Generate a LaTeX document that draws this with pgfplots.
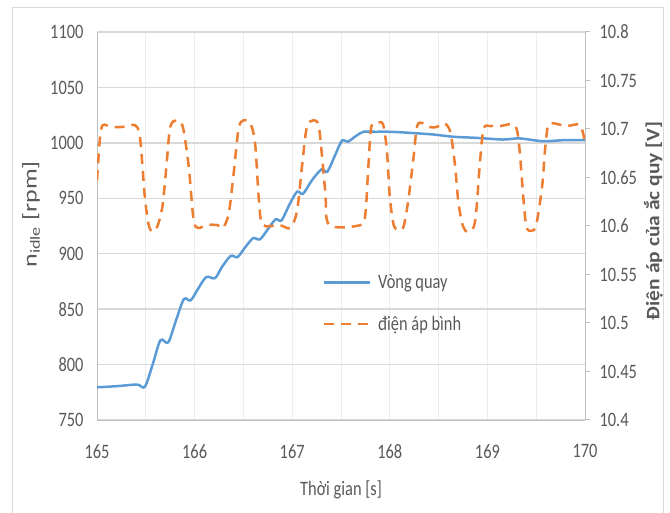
\documentclass[border=0pt]{standalone}
\usepackage{pgfplots}
\pgfplotsset{compat=1.18}
\usepackage{fontspec}
\setmainfont{Carlito}[FakeStretch=0.8]
\newfontfamily\leftlab{Carlito}[FakeStretch=1.3]
\newfontfamily\rightlab{Carlito}[FakeStretch=1.13]

\definecolor{cblue}{HTML}{5B9BD5}
\definecolor{corange}{HTML}{ED7D31}
\definecolor{tickgray}{HTML}{595959}
\definecolor{hgrid}{HTML}{D9D9D9}
\definecolor{vgrid}{HTML}{EDEDED}
\definecolor{axgray}{HTML}{BFBFBF}

\newcommand{\chartfont}{\fontsize{20.5bp}{24bp}\selectfont}

\begin{document}
\begin{tikzpicture}
\useasboundingbox (0,0) rectangle (670bp,513bp);
\draw[hgrid, line width=1bp] (12bp,-10bp) rectangle (663bp,505bp);

% left axis: engine speed
\begin{axis}[
    at={(97bp,93bp)}, anchor=south west,
    scale only axis, width=488bp, height=388bp,
    xmin=165, xmax=170, ymin=750, ymax=1100,
    xtick={165,166,...,170},
    minor xtick={165.5,166.5,...,169.5},
    ytick={750,800,...,1100},
    axis y line*=left, axis x line*=bottom,
    axis line style={axgray, line width=1bp},
    major tick length=0pt, minor tick length=0pt,
    ymajorgrids=true, xmajorgrids=true, xminorgrids=true,
    y grid style={hgrid, line width=1.3bp},
    x grid style={vgrid, line width=1bp},
    minor x grid style={vgrid, line width=1bp},
    /pgf/number format/assume math mode=true,
    /pgf/number format/1000 sep={},
    tick label style={font=\chartfont, text=tickgray},
    xticklabel style={yshift=-21bp},
    yticklabel style={xshift=-10bp},
    xlabel={Thời gian [s]},
    xlabel style={font=\chartfont, text=tickgray, at={(axis description cs:0.5,-0.18)}, anchor=center},
    ylabel={n\textsubscript{idle} [rpm]},
    ylabel style={font=\leftlab\fontsize{20bp}{22bp}\selectfont, text=tickgray, at={(axis description cs:-0.135,0.53)}, anchor=center, rotate=0},
]
\addplot[cblue, line width=2.5bp, smooth] coordinates {
(165.00,779.5) (165.20,780.5) (165.41,782) (165.49,780) (165.57,800)
(165.65,822) (165.73,820) (165.81,840) (165.89,859) (165.96,858)
(166.04,869) (166.12,879) (166.21,878) (166.28,888) (166.37,898)
(166.44,897) (166.52,906) (166.60,914) (166.67,913) (166.75,922)
(166.83,931) (166.89,930) (166.97,944) (167.05,956) (167.11,954)
(167.20,966) (167.30,976) (167.36,974) (167.44,989) (167.51,1002)
(167.57,1001) (167.65,1006) (167.73,1010) (167.85,1010) (168.00,1010)
(168.21,1009) (168.45,1007.5) (168.65,1005.5) (168.89,1004.5) (169.16,1003)
(169.33,1004) (169.57,1001.5) (169.80,1002.5) (170.00,1002.5)
};
\end{axis}

% right axis: battery voltage
\begin{axis}[
    at={(97bp,93bp)}, anchor=south west,
    scale only axis, width=488bp, height=388bp,
    xmin=165, xmax=170, ymin=10.4, ymax=10.8,
    axis x line=none, axis y line*=right,
    axis line style={axgray, line width=1bp},
    ytick={10.4,10.45,10.5,10.55,10.6,10.65,10.7,10.75,10.8},
    yticklabels={10.4,10.45,10.5,10.55,10.6,10.65,10.7,10.75,10.8},
    tick align=outside, major tick length=5bp,
    tick style={axgray, line width=1bp},
    yticklabel style={font=\chartfont, text=tickgray, anchor=west, xshift=6bp},
    ylabel={Điện áp của ắc quy [V]},
    ylabel style={font=\rightlab\bfseries\fontsize{19bp}{22bp}\selectfont, text=tickgray, at={(axis description cs:1.14,0.513)}, anchor=center},
    legend cell align=left,
    legend style={draw=none, fill=none, at={(axis description cs:0.462,0.38)}, anchor=north west,
        font=\chartfont, text=tickgray, row sep=22bp, inner sep=0pt,
        nodes={inner sep=2bp},
        /tikz/every odd column/.append style={column sep=5bp}},
    legend image code/.code={\draw[#1] (0bp,0bp) -- (46bp,0bp);},
]
\addlegendimage{cblue, line width=2.5bp}
\addlegendentry{Vòng quay}
\addplot[corange, line width=2.5bp, dash pattern=on 10bp off 7bp, smooth] coordinates {
(165.00,10.647) (165.03,10.690) (165.06,10.704) (165.15,10.702) (165.24,10.702)
(165.33,10.703) (165.39,10.704) (165.44,10.692) (165.49,10.630) (165.53,10.601)
(165.57,10.594) (165.62,10.600) (165.67,10.620) (165.71,10.660) (165.75,10.702)
(165.82,10.709) (165.88,10.702) (165.94,10.661) (165.99,10.606) (166.04,10.598)
(166.12,10.601) (166.23,10.601) (166.29,10.598) (166.35,10.613) (166.40,10.654)
(166.45,10.700) (166.50,10.709) (166.57,10.706) (166.62,10.685) (166.66,10.625)
(166.70,10.601) (166.87,10.601) (166.98,10.598) (167.05,10.616) (167.10,10.661)
(167.15,10.702) (167.22,10.709) (167.27,10.704) (167.30,10.678) (167.34,10.634)
(167.38,10.601) (167.70,10.601) (167.75,10.613) (167.78,10.661) (167.81,10.702)
(167.87,10.706) (167.93,10.705) (167.97,10.678) (168.00,10.630) (168.04,10.601)
(168.09,10.596) (168.14,10.599) (168.19,10.627) (168.24,10.668) (168.28,10.703)
(168.34,10.706) (168.41,10.702) (168.48,10.702) (168.55,10.706) (168.60,10.702)
(168.63,10.692) (168.67,10.661) (168.70,10.627) (168.74,10.603) (168.79,10.594)
(168.86,10.599) (168.89,10.620) (168.92,10.661) (168.96,10.700) (169.03,10.703)
(169.13,10.703) (169.25,10.705) (169.30,10.700) (169.33,10.678) (169.37,10.627)
(169.40,10.599) (169.45,10.595) (169.50,10.601) (169.56,10.640) (169.59,10.678)
(169.62,10.703) (169.67,10.706) (169.81,10.703) (169.95,10.704) (170.00,10.685)
};
\addlegendentry{điện áp bình}
\end{axis}
\end{tikzpicture}
\end{document}
